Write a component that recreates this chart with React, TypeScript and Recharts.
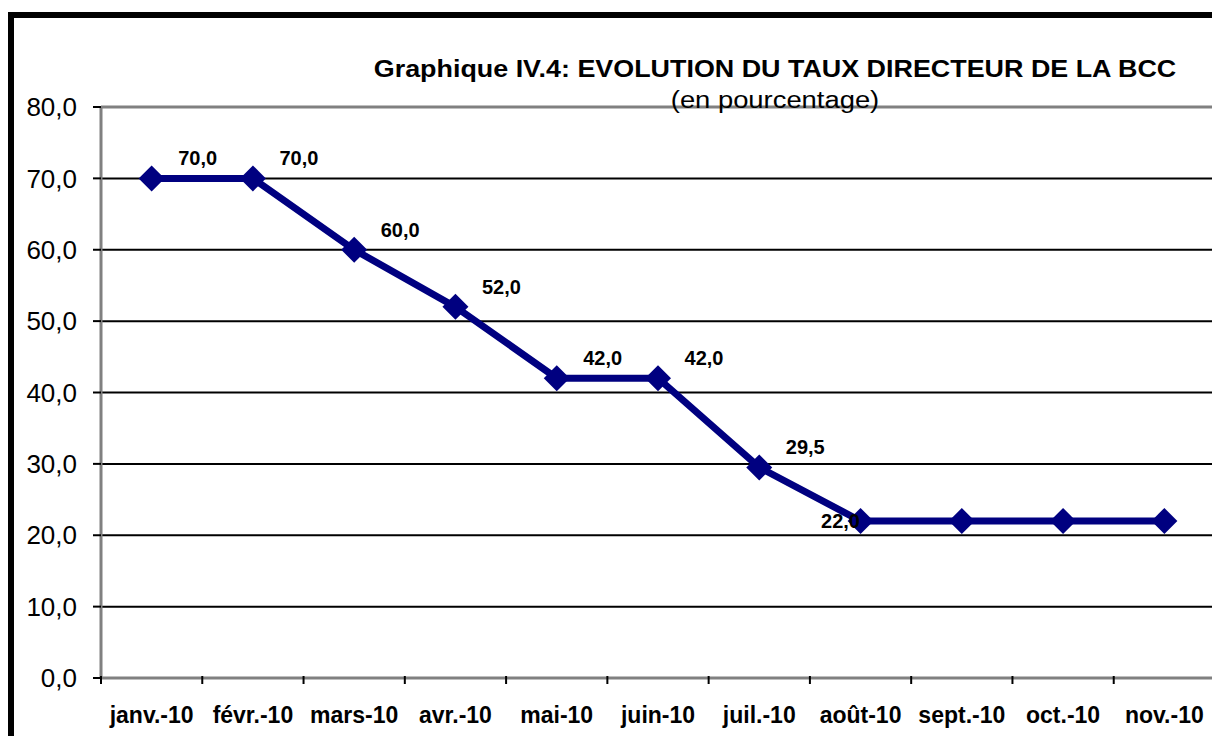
import React from "react";
import {
  LineChart,
  Line,
  XAxis,
  YAxis,
  CartesianGrid,
  ReferenceLine,
} from "recharts";

const months = [
  "janv.-10",
  "févr.-10",
  "mars-10",
  "avr.-10",
  "mai-10",
  "juin-10",
  "juil.-10",
  "août-10",
  "sept.-10",
  "oct.-10",
  "nov.-10",
];
const rates = [70, 70, 60, 52, 42, 42, 29.5, 22, 22, 22, 22];
const yTicks = [0, 10, 20, 30, 40, 50, 60, 70, 80];

const data = months.map((m, i) => ({ month: m, rate: rates[i] }));

const FONT = '"Liberation Sans", Arial, sans-serif';
const NAVY = "#000080";
const fmt = (v: number) => v.toFixed(1).replace(".", ",");

// diamond marker
function Diamond(props: any) {
  const { cx, cy } = props;
  if (cx == null || cy == null) return null;
  const r = 13;
  return (
    <polygon
      points={`${cx},${cy - r} ${cx + r},${cy} ${cx},${cy + r} ${cx - r},${cy}`}
      fill={NAVY}
    />
  );
}

// value labels: only up to août, the last one sits to the left
function renderLabel(props: any) {
  const { x, y, value, index } = props;
  if (index > 7) return null;
  const left = index === 7;
  return (
    <text
      key={`lbl-${index}`}
      x={left ? x - 20 : x + 46}
      y={left ? y + 7 : y - 13}
      textAnchor="middle"
      fontFamily={FONT}
      fontSize={20}
      fontWeight="bold"
      fill="#000"
    >
      {fmt(value)}
    </text>
  );
}

// month label centred, tick mark on category boundary
function MonthTick(props: any) {
  const { x, y, payload } = props;
  const half = payload.offset || 50.6;
  return (
    <g>
      <line x1={x - half} y1={y - 10} x2={x - half} y2={y - 2} stroke="#000" strokeWidth={2} />
      <text
        x={x}
        y={y + 37}
        textAnchor="middle"
        fontFamily={FONT}
        fontSize={23}
        fontWeight="bold"
        fill="#000"
      >
        {payload.value}
      </text>
    </g>
  );
}

export default function App() {
  return (
    <div
      style={{
        position: "absolute",
        left: 0,
        top: 0,
        width: 1212,
        height: 736,
        overflow: "hidden",
        background: "#fff",
      }}
    >
      <div
        style={{
          position: "absolute",
          left: 8,
          top: 12,
          width: 1400,
          height: 900,
          border: "6px solid #000",
        }}
      />
      <div
        style={{
          position: "absolute",
          left: 0,
          top: 0,
        }}
      >
        <LineChart
          width={1230}
          height={736}
          data={data}
          margin={{ top: 107, right: 15, bottom: 18, left: 0 }}
        >
          <CartesianGrid horizontal vertical={false} stroke="#000" strokeWidth={2} />
          <ReferenceLine y={80} stroke="#808080" strokeWidth={3} />
          <XAxis
            dataKey="month"
            scale="band"
            height={40}
            axisLine={{ stroke: "#808080", strokeWidth: 3 }}
            tickLine={false}
            tick={<MonthTick />}
            interval={0}
          />
          <YAxis
            width={101}
            domain={[0, 80]}
            ticks={yTicks}
            tickFormatter={fmt}
            axisLine={{ stroke: "#808080", strokeWidth: 3 }}
            tickLine={{ stroke: "#000", strokeWidth: 2 }}
            tickSize={8}
            tickMargin={16}
            tick={{ fontFamily: FONT, fontSize: 26, fill: "#000" }}
          />
          <Line
            dataKey="rate"
            stroke={NAVY}
            strokeWidth={7}
            dot={<Diamond />}
            activeDot={false}
            label={renderLabel}
            isAnimationActive={false}
          />
        </LineChart>
      </div>
      <div
        style={{
          position: "absolute",
          left: 375,
          top: 55,
          width: 800,
          textAlign: "center",
          fontFamily: FONT,
          fontSize: 24,
          fontWeight: "bold",
          lineHeight: "28px",
          whiteSpace: "nowrap",
          transform: "scaleX(1.12)",
        }}
      >
        Graphique IV.4: EVOLUTION DU TAUX DIRECTEUR DE LA BCC
      </div>
      <div
        style={{
          position: "absolute",
          left: 375,
          top: 86,
          width: 800,
          textAlign: "center",
          fontFamily: FONT,
          fontSize: 23,
          lineHeight: "28px",
          whiteSpace: "nowrap",
          transform: "scaleX(1.19)",
        }}
      >
        (en pourcentage)
      </div>
    </div>
  );
}
